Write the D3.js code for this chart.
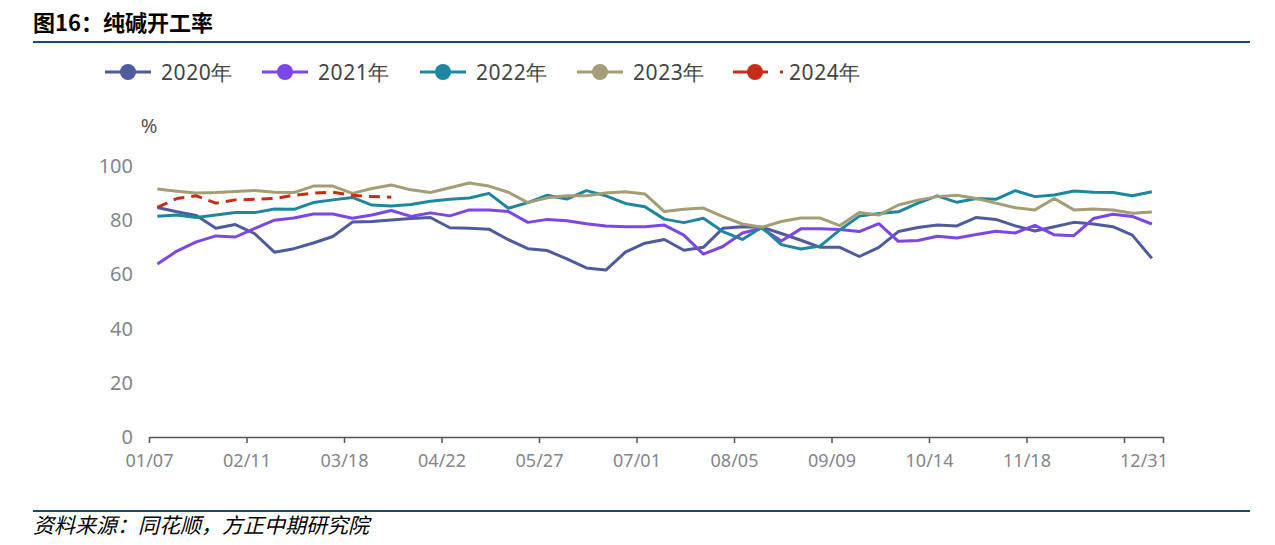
<!DOCTYPE html>
<html>
<head>
<meta charset="utf-8">
<script src="https://cdn.jsdelivr.net/npm/d3@7"></script>
<style>
  body { margin: 0; background: #fff; }
  svg { display: block; }
</style>
</head>
<body>
<script>
//weekly soda ash operating rate, one array per year (%)
var years = ["2020年", "2021年", "2022年", "2023年", "2024年"];
var colors = ["#4f5b9c", "#7b46ea", "#1f86a0", "#a39e76", "#c42d17"];

var v2020 = [84.7, 83.1, 81.7, 77, 78.4, 75, 68.2, 69.5, 71.6, 74, 79.3, 79.5, 80.1, 80.6, 81, 77.2, 77, 76.7, 72.8, 69.5,
    68.8, 65.7, 62.4, 61.6, 68.2, 71.5, 72.9, 68.9, 70, 77, 77.6, 77.4, 75.1, 72.6, 70, 70, 66.6, 70, 75.8, 77.3,
    78.2, 77.9, 81, 80.3, 77.9, 76, 77.6, 79.2, 78.6, 77.6, 74.5, 65.9];
var v2021 = [63.8, 68.6, 72, 74.2, 73.8, 77, 80, 80.8, 82.3, 82.3, 80.7, 81.9, 83.6, 81.4, 82.7, 81.6, 83.8, 83.8, 83.2, 79.2,
    80.3, 79.8, 78.7, 77.9, 77.6, 77.6, 78.2, 74.5, 67.5, 70.3, 75.3, 77, 72.3, 76.8, 76.8, 76.6, 75.8, 78.7, 72.2, 72.5,
    74.1, 73.4, 74.7, 75.9, 75.3, 78.1, 74.6, 74.3, 80.6, 82.2, 81.4, 78.6];
var v2022 = [81.5, 81.9, 81, 81.9, 82.8, 82.8, 84.1, 84, 86.5, 87.5, 88.4, 85.6, 85.2, 85.8, 87, 87.7, 88.2, 89.9, 84.4, 86.5,
    89.2, 87.8, 90.9, 89, 86.2, 85, 80.4, 79.1, 80.7, 75.8, 72.9, 77.4, 71, 69.4, 70.5, 76.4, 81.5, 82.5, 83.1, 86.3,
    89, 86.6, 88, 87.7, 90.9, 88.7, 89.3, 90.8, 90.3, 90.2, 89, 90.5];
var v2023 = [91.5, 90.7, 90, 90.2, 90.6, 91, 90.3, 90.2, 92.6, 92.6, 89.9, 91.7, 93, 91.2, 90.2, 92, 93.7, 92.6, 90.3, 86.5,
    88.3, 89, 89, 90, 90.5, 89.7, 83.2, 84, 84.5, 81.3, 78.6, 77.4, 79.5, 80.8, 80.8, 78, 82.8, 81.9, 85.6, 87.4,
    88.7, 89.2, 88, 86.3, 84.6, 83.8, 88, 83.8, 84.1, 83.8, 82.6, 83];
var v2024 = [84.7, 88, 89, 86.3, 87.5, 87.7, 88, 89.2, 90, 90.3, 89.2, 88.7, 88.5];

//x axis: day of year, first point 01/10, one point a week
var firstDay = 10;
var tickDays = [7, 42, 77, 112, 147, 182, 217, 252, 287, 322, 357, 364, 371];
var tickLabels = ["01/07", "02/11", "03/18", "04/22", "05/27", "07/01", "08/05", "09/09", "10/14", "11/18", "", "12/31", ""];
var noTickDay = 364; //12/31 label has no tick mark
var yTicks = [0, 20, 40, 60, 80, 100];

var w = 1275, h = 545;
var svg = d3.select("body").append("svg")
    .attr("width", w)
    .attr("height", h);

var x = d3.scaleLinear().domain([7, 371]).range([149, 1163]);
var y = d3.scaleLinear().domain([0, 100]).range([437, 166]);

var txtFont = "'Noto Sans', 'Open Sans', sans-serif";
var cjkFont = "'Noto Sans CJK SC', sans-serif";

//title + rule
svg.append("text")
    .attr("x", 33)
    .attr("y", 31)
    .style("font-family", cjkFont)
    .style("font-weight", "bold")
    .style("font-size", "22px")
    .style("fill", "#000")
    .text("图16：纯碱开工率");
svg.append("line")
    .attr("x1", 33).attr("x2", 1250)
    .attr("y1", 42).attr("y2", 42)
    .style("stroke", "#0d4d7b")
    .style("stroke-width", 2);

//footer
svg.append("line")
    .attr("x1", 33).attr("x2", 1250)
    .attr("y1", 511).attr("y2", 511)
    .style("stroke", "#0d4d7b")
    .style("stroke-width", 2);
svg.append("text")
    .attr("x", 33)
    .attr("y", 533)
    .style("font-family", cjkFont)
    .style("font-style", "italic")
    .style("font-size", "21px")
    .style("fill", "#000")
    .text("资料来源：同花顺，方正中期研究院");

//y axis labels only (no line, no grid)
var yAxis = svg.append("g")
    .attr("transform", "translate(133,0)")
    .call(d3.axisLeft(y).tickValues(yTicks).tickSize(0).tickPadding(0));
yAxis.select(".domain").remove();
yAxis.selectAll("text")
    .style("font-family", txtFont)
    .style("font-size", "20px")
    .style("fill", "#85858e");

svg.append("text")
    .attr("x", 149)
    .attr("y", 133)
    .attr("text-anchor", "middle")
    .style("font-family", txtFont)
    .style("font-size", "20px")
    .style("fill", "#555")
    .text("%");

//x axis
var xAxis = svg.append("g")
    .attr("transform", "translate(0,437)")
    .call(d3.axisBottom(x)
        .tickValues(tickDays)
        .tickSize(6)
        .tickSizeOuter(0)
        .tickPadding(11)
        .tickFormat(function (d, i) { return tickLabels[i]; }));
xAxis.select(".domain").style("stroke", "#555").style("stroke-width", 1.5);
xAxis.selectAll(".tick line")
    .style("stroke", "#555")
    .style("stroke-width", 1.5)
    .style("display", function (d) { return d === noTickDay ? "none" : null; });
xAxis.selectAll("text")
    .style("font-family", txtFont)
    .style("font-size", "18px")
    .style("fill", "#85858e");

//lines
var series = [v2020, v2021, v2022, v2023, v2024];
var line = d3.line()
    .x(function (d, i) { return x(firstDay + 7 * i); })
    .y(function (d) { return y(d); });

svg.selectAll(".series")
    .data(series)
    .enter()
    .append("path")
    .attr("class", "series")
    .attr("d", function (d) { return line(d); })
    .style("fill", "none")
    .style("stroke", function (d, i) { return colors[i]; })
    .style("stroke-width", 3)
    .style("stroke-linejoin", "round")
    .style("stroke-dasharray", function (d, i) { return i === 4 ? "11,7" : null; });

//legend
var legendX = [105, 262, 420, 577, 733];
var legend = svg.selectAll(".legend")
    .data(years)
    .enter()
    .append("g")
    .attr("class", "legend")
    .attr("transform", function (d, i) { return "translate(" + legendX[i] + ",72)"; });

legend.append("line")
    .attr("x1", 0).attr("x2", function (d, i) { return i === 4 ? 50 : 46; })
    .style("stroke", function (d, i) { return colors[i]; })
    .style("stroke-width", 3)
    .style("stroke-dasharray", function (d, i) { return i === 4 ? "35,12,3,100" : null; });
legend.append("circle")
    .attr("cx", function (d, i) { return i === 4 ? 22 : 23; })
    .attr("r", 8)
    .style("fill", function (d, i) { return colors[i]; });
legend.append("text")
    .attr("x", 56)
    .attr("y", 7.5)
    .style("font-family", txtFont)
    .style("font-size", "21px")
    .style("letter-spacing", "0.6px")
    .style("fill", "#444")
    .text(function (d) { return d; });
</script>
</body>
</html>
